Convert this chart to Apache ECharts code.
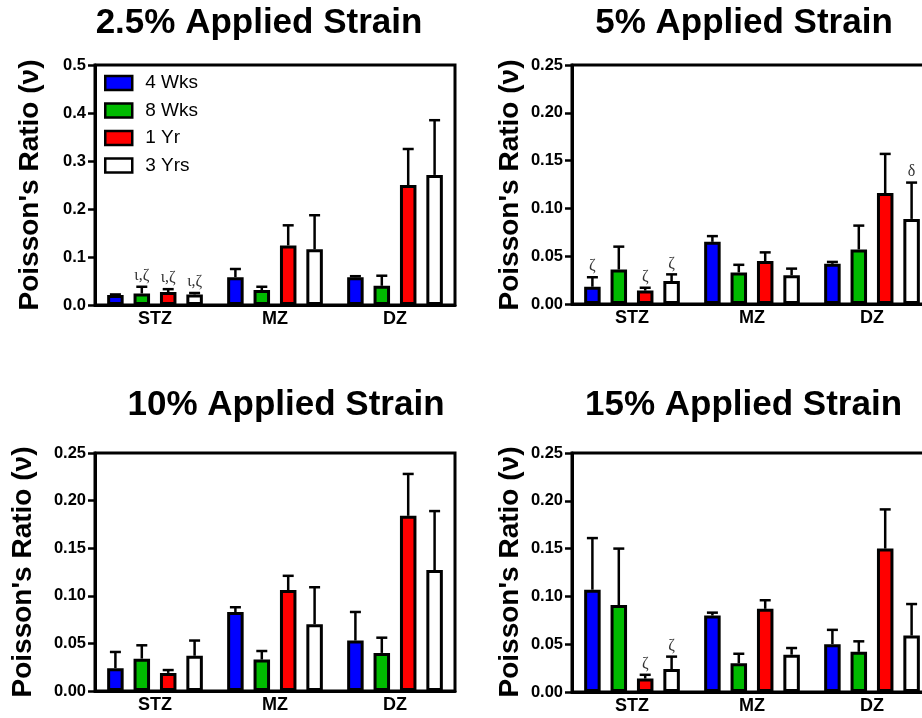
<!DOCTYPE html>
<html>
<head>
<meta charset="utf-8">
<script src="https://cdn.jsdelivr.net/npm/echarts@6/dist/echarts.min.js"></script>
<style>
html,body{margin:0;padding:0;background:#fff;}
#chart{width:922px;height:718px;}
</style>
</head>
<body>
<div id="chart"></div>
<script>
// ---------- DATA ----------
const categories = ['STZ', 'MZ', 'DZ'];
const seriesNames = ['4 Wks', '8 Wks', '1 Yr', '3 Yrs'];
const panelTitles = ['2.5% Applied Strain', '5% Applied Strain', '10% Applied Strain', '15% Applied Strain'];
const yAxisName = "Poisson's Ratio (\u03bd)";
const yMax = [0.5, 0.25, 0.25, 0.25];
const yStep = [0.1, 0.05, 0.05, 0.05];
const yDecimals = [1, 2, 2, 2];

// means per series [4 Wks, 8 Wks, 1 Yr, 3 Yrs], each over [STZ, MZ, DZ]
const mean2_5 = [[0.021, 0.058, 0.058], [0.024, 0.031, 0.040], [0.027, 0.124, 0.250], [0.022, 0.116, 0.271]];
const err2_5  = [[0.001, 0.017, 0.002], [0.014, 0.007, 0.021], [0.006, 0.042, 0.075], [0.003, 0.071, 0.114]];
const mean5   = [[0.018, 0.065, 0.042], [0.036, 0.033, 0.057], [0.014, 0.045, 0.116], [0.024, 0.030, 0.089]];
const err5    = [[0.010, 0.006, 0.002], [0.024, 0.008, 0.025], [0.003, 0.009, 0.041], [0.007, 0.007, 0.038]];
const mean10  = [[0.024, 0.083, 0.053], [0.034, 0.033, 0.040], [0.019, 0.106, 0.184], [0.037, 0.070, 0.127]];
const err10   = [[0.017, 0.005, 0.030], [0.014, 0.009, 0.016], [0.003, 0.015, 0.044], [0.016, 0.039, 0.062]];
const mean15  = [[0.107, 0.080, 0.050], [0.091, 0.030, 0.042], [0.014, 0.087, 0.150], [0.024, 0.039, 0.059]];
const err15   = [[0.054, 0.003, 0.015], [0.059, 0.010, 0.011], [0.004, 0.009, 0.041], [0.013, 0.007, 0.033]];

// significance annotations above error bars
const ann2_5 = [['', '', ''], ['\u03b9,\u03b6', '', ''], ['\u03b9,\u03b6', '', ''], ['\u03b9,\u03b6', '', '']];
const ann5   = [['\u03b6', '', ''], ['', '', ''], ['\u03b6', '', ''], ['\u03b6', '', '\u03b4']];
const ann10  = [['', '', ''], ['', '', ''], ['', '', ''], ['', '', '']];
const ann15  = [['', '', ''], ['', '', ''], ['\u03b6', '', ''], ['\u03b6', '', '']];

const means = [mean2_5, mean5, mean10, mean15];
const errs = [err2_5, err5, err10, err15];
const anns = [ann2_5, ann5, ann10, ann15];

// ---------- STYLE / LAYOUT ----------
const colors = ['#0000ff', '#00bb00', '#ff0000', '#ffffff'];
const FONT = 'Liberation Sans, Arial, sans-serif';
const BAR_W = 16.5;
const BAR_GAP = 0.6;
const grids = [
  {left: 95, top: 65, width: 360, height: 240},
  {left: 572, top: 65, width: 360, height: 239},
  {left: 95, top: 453, width: 360, height: 238},
  {left: 572, top: 453, width: 360, height: 239}
];
const titlePos = [[259, 23], [744, 23.5], [286, 405], [743.5, 405]];
const ylabPos = [[30, 185], [510, 185], [23, 572], [510, 572]];

const chart = echarts.init(document.getElementById('chart'), null, {renderer: 'canvas'});

const option = {
  animation: false,
  backgroundColor: '#fff',
  grid: grids.map(g => Object.assign({show: true, borderColor: '#000', borderWidth: 3, backgroundColor: 'transparent',
    containLabel: false, outerBoundsMode: 'none'}, g)),
  xAxis: grids.map((g, p) => ({
    type: 'category', gridIndex: p, data: categories,
    axisLine: {lineStyle: {color: '#000', width: 3}},
    axisTick: {alignWithLabel: true, length: 8, lineStyle: {color: '#000', width: 2.5}},
    axisLabel: {color: '#000', fontFamily: FONT, fontWeight: 'bold', fontSize: 18, margin: 5},
    splitLine: {show: false}
  })),
  yAxis: grids.map((g, p) => ({
    type: 'value', gridIndex: p, min: 0, max: yMax[p], interval: yStep[p],
    axisLine: {show: true, lineStyle: {color: '#000', width: 3}},
    axisTick: {show: true, length: 7, lineStyle: {color: '#000', width: 2.5}},
    axisLabel: {color: '#000', fontFamily: FONT, fontWeight: 'bold', fontSize: 16.5, margin: 9,
      formatter: v => v.toFixed(yDecimals[p])},
    splitLine: {show: false}
  })),
  legend: {
    show: true, orient: 'vertical', left: 104, top: 73, padding: 0,
    itemWidth: 27, itemHeight: 14, itemGap: 7.5, icon: 'rect',
    data: seriesNames,
    selectedMode: false,
    itemStyle: {borderColor: '#000', borderWidth: 2.5},
    textStyle: {fontFamily: FONT, fontSize: 19, lineHeight: 20, color: '#000', padding: [0, 0, 0, 8]}
  },
  graphic: [],
  series: []
};

for (let p = 0; p < 4; p++) {
  option.graphic.push({
    type: 'text', x: titlePos[p][0], y: titlePos[p][1],
    style: {text: panelTitles[p], fill: '#000', font: 'bold 35px ' + FONT, textAlign: 'center', textVerticalAlign: 'middle'}
  });
  option.graphic.push({
    type: 'text', x: ylabPos[p][0], y: ylabPos[p][1], rotation: Math.PI / 2,
    style: {text: yAxisName, fill: '#000', font: 'bold 28px ' + FONT, textAlign: 'center', textVerticalAlign: 'middle'}
  });
  for (let k = 0; k < 4; k++) {
    option.series.push({
      type: 'bar', name: seriesNames[k], xAxisIndex: p, yAxisIndex: p,
      data: means[p][k], barWidth: BAR_W, barGap: (BAR_GAP * 100) + '%',
      itemStyle: {color: colors[k], borderColor: '#000', borderWidth: 3},
      emphasis: {disabled: true}
    });
  }
  for (let k = 0; k < 4; k++) {
    const mk = means[p][k], ek = errs[p][k], ak = anns[p][k];
    option.series.push({
      type: 'custom', xAxisIndex: p, yAxisIndex: p, z: 5, silent: true,
      data: categories.map((c, i) => [i, mk[i], ek[i]]),
      encode: {x: 0, y: 1},
      renderItem: function (params, api) {
        const ci = api.value(0), m = api.value(1), e = api.value(2);
        const base = api.coord([ci, m]);
        const top = api.coord([ci, m + e]);
        const x = base[0] + (k - 1.5) * BAR_W * (1 + BAR_GAP);
        const ls = {stroke: '#000', lineWidth: 2.5};
        const children = [
          {type: 'line', shape: {x1: x, y1: base[1], x2: x, y2: top[1]}, style: ls},
          {type: 'line', shape: {x1: x - 5.5, y1: top[1], x2: x + 5.5, y2: top[1]}, style: ls}
        ];
        const a = ak[params.dataIndex];
        if (a) {
          children.push({type: 'text', x: x, y: top[1] - 11,
            style: {text: a, fill: '#333', font: '16px Liberation Serif, Times New Roman, serif', textAlign: 'center', textVerticalAlign: 'middle'}});
        }
        return {type: 'group', children: children};
      }
    });
  }
}

chart.setOption(option);
</script>
</body>
</html>
